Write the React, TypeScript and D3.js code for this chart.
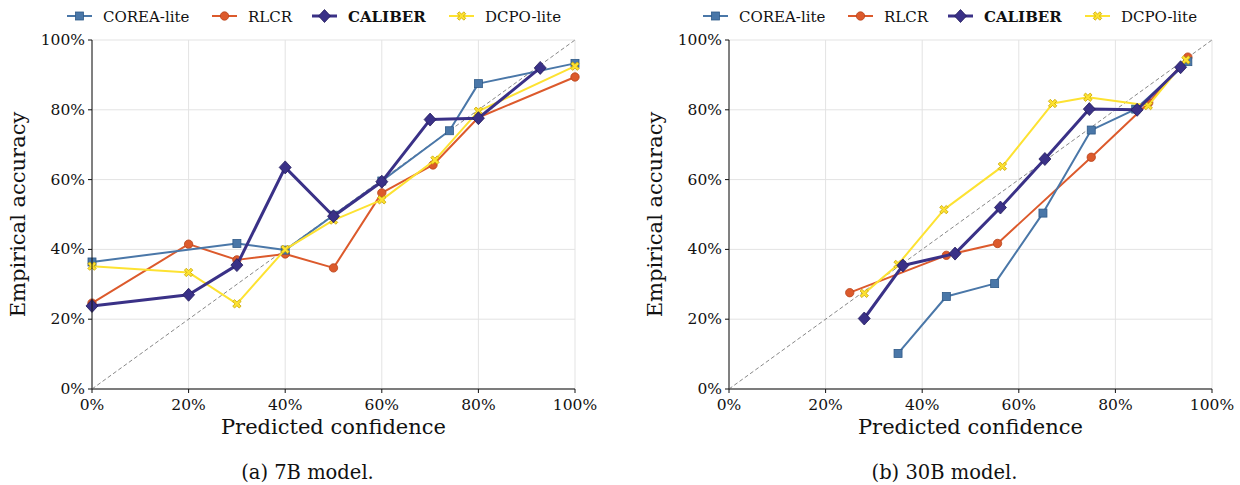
import * as d3 from "d3";

const methods = ["COREA-lite", "RLCR", "CALIBER", "DCPO-lite"];
const colors = ["#4a77a8", "#dc5a2c", "#3a3187", "#fde232"];
const edges = ["#2f5a88", "#b8441c", "#231c5c", "#c9a400"];
const yTicks = [0, 20, 40, 60, 80, 100];
const xTicks = [0, 20, 40, 60, 80, 100];

// 7B model: [confidence %, accuracy %]
const corea7B = [[0, 36.4], [30, 41.7], [40, 39.8], [50, 49.8], [60, 59.6], [74, 74], [80, 87.5], [100, 93.3]];
const rlcr7B = [[0, 24.6], [20, 41.5], [30, 37], [40, 38.7], [50, 34.7], [60, 56.2], [70.6, 64.2], [80, 77.8], [100, 89.4]];
const caliber7B = [[0, 23.8], [20, 27], [30, 35.5], [40, 63.5], [50, 49.5], [60, 59.4], [70, 77.2], [80, 77.6], [92.8, 92]];
const dcpo7B = [[0, 35.2], [20, 33.4], [30, 24.4], [40, 40], [50, 48.4], [60, 54.2], [71, 65.6], [80, 79.6], [100, 92.5]];

// 30B model
const corea30B = [[35, 10.2], [45, 26.5], [55, 30.2], [65, 50.4], [75, 74.2], [84.2, 80.2], [95, 93.8]];
const rlcr30B = [[25, 27.6], [45, 38.3], [55.6, 41.7], [75, 66.4], [86.9, 82], [95, 95.1]];
const caliber30B = [[28, 20.2], [36, 35.4], [46.8, 38.8], [56.2, 52], [65.4, 65.9], [74.6, 80.2], [84.5, 80], [93.5, 92.2]];
const dcpo30B = [[28, 27.4], [35, 35.7], [44.5, 51.4], [56.6, 63.8], [67, 81.8], [74.3, 83.6], [86.8, 81.2], [94.6, 94.3]];

const FONT = "'DejaVu Serif', serif";

function Marker({ i, x, y }: { i: number; x: number; y: number }) {
  if (i === 0)
    return <rect x={x - 4} y={y - 4} width={8} height={8} fill={colors[i]} stroke={edges[i]} strokeWidth={0.8} />;
  if (i === 1) return <circle cx={x} cy={y} r={4.2} fill={colors[i]} stroke={edges[i]} strokeWidth={0.8} />;
  if (i === 2)
    return (
      <path d={`M${x},${y - 6.5}L${x + 6},${y}L${x},${y + 6.5}L${x - 6},${y}Z`} fill={colors[i]} stroke={edges[i]} strokeWidth={0.8} />
    );
  // filled "X" marker
  const s = 4.2, t = 1.9;
  const d = `M${x - s},${y - s + t}L${x - s + t},${y - s}L${x},${y - t}L${x + s - t},${y - s}L${x + s},${y - s + t}L${x + t},${y}L${x + s},${y + s - t}L${x + s - t},${y + s}L${x},${y + t}L${x - s + t},${y + s}L${x - s},${y + s - t}L${x - t},${y}Z`;
  return <path d={d} fill={colors[i]} stroke={edges[i]} strokeWidth={0.8} />;
}

function Legend({ x0 }: { x0: number }) {
  const offs = [0, 145, 245, 382];
  return (
    <g>
      {methods.map((m, i) => (
        <g key={m} transform={`translate(${x0 + offs[i]},16)`}>
          <line x1={0} x2={25} y1={0} y2={0} stroke={colors[i]} strokeWidth={i === 2 ? 3 : 2} />
          <Marker i={i} x={12.5} y={0} />
          <text x={36} y={5.5} fontFamily={FONT} fontSize={15} fontWeight={i === 2 ? "bold" : "normal"} fill="#111">
            {m}
          </text>
        </g>
      ))}
    </g>
  );
}

function Panel({ left, series, caption }: { left: number; series: number[][][]; caption: string }) {
  const x = d3.scaleLinear().domain([0, 100]).range([left, left + 483]);
  const y = d3.scaleLinear().domain([0, 100]).range([389, 40]);
  const line = d3
    .line<number[]>()
    .x((d) => x(d[0]))
    .y((d) => y(d[1]));
  const order = [1, 0, 3, 2];
  return (
    <g>
      {xTicks.map((t) => (
        <line key={"gx" + t} x1={x(t)} x2={x(t)} y1={y(0)} y2={y(100)} stroke="#e3e3e3" strokeWidth={1} />
      ))}
      {yTicks.map((t) => (
        <line key={"gy" + t} x1={x(0)} x2={x(100)} y1={y(t)} y2={y(t)} stroke="#e3e3e3" strokeWidth={1} />
      ))}
      <line x1={x(0)} y1={y(0)} x2={x(100)} y2={y(100)} stroke="#888" strokeWidth={1} strokeDasharray="4,2.5" />
      {order.map((i) => (
        <g key={i}>
          <path d={line(series[i] as any) ?? ""} fill="none" stroke={colors[i]} strokeWidth={i === 2 ? 3 : 2} strokeLinejoin="round" />
          {series[i].map((d, k) => (
            <Marker key={k} i={i} x={x(d[0])} y={y(d[1])} />
          ))}
        </g>
      ))}
      <line x1={x(0)} x2={x(0)} y1={y(0)} y2={y(100)} stroke="#111" strokeWidth={1} />
      <line x1={x(0)} x2={x(100)} y1={y(0)} y2={y(0)} stroke="#555" strokeWidth={1.5} />
      {yTicks.map((t) => (
        <g key={"ty" + t}>
          <line x1={x(0) - 4} x2={x(0)} y1={y(t)} y2={y(t)} stroke="#111" />
          <text x={x(0) - 7} y={y(t) + 5} textAnchor="end" fontFamily={FONT} fontSize={15.5} fill="#111">
            {t}%
          </text>
        </g>
      ))}
      {xTicks.map((t) => (
        <g key={"tx" + t}>
          <line x1={x(t)} x2={x(t)} y1={y(0)} y2={y(0) + 4} stroke="#111" />
          <text x={x(t)} y={y(0) + 21} textAnchor="middle" fontFamily={FONT} fontSize={15.5} fill="#111">
            {t}%
          </text>
        </g>
      ))}
      <text x={(x(0) + x(100)) / 2} y={434} textAnchor="middle" fontFamily={FONT} fontSize={21} fill="#111">
        Predicted confidence
      </text>
      <text
        transform={`translate(${x(0) - 67},${(y(0) + y(100)) / 2}) rotate(-90)`}
        textAnchor="middle"
        fontFamily={FONT}
        fontSize={21}
        fill="#111"
      >
        Empirical accuracy
      </text>
      <text x={(x(0) + x(100)) / 2 - 26} y={479} textAnchor="middle" fontFamily={FONT} fontSize={19.5} fill="#111">
        {caption}
      </text>
    </g>
  );
}

export default function App() {
  return (
    <svg width={1240} height={485} style={{ position: "absolute", left: 0, top: 0, background: "#fff" }}>
      <Legend x0={67} />
      <Legend x0={703} />
      <Panel left={92} series={[corea7B, rlcr7B, caliber7B, dcpo7B]} caption="(a) 7B model." />
      <Panel left={729} series={[corea30B, rlcr30B, caliber30B, dcpo30B]} caption="(b) 30B model." />
    </svg>
  );
}
